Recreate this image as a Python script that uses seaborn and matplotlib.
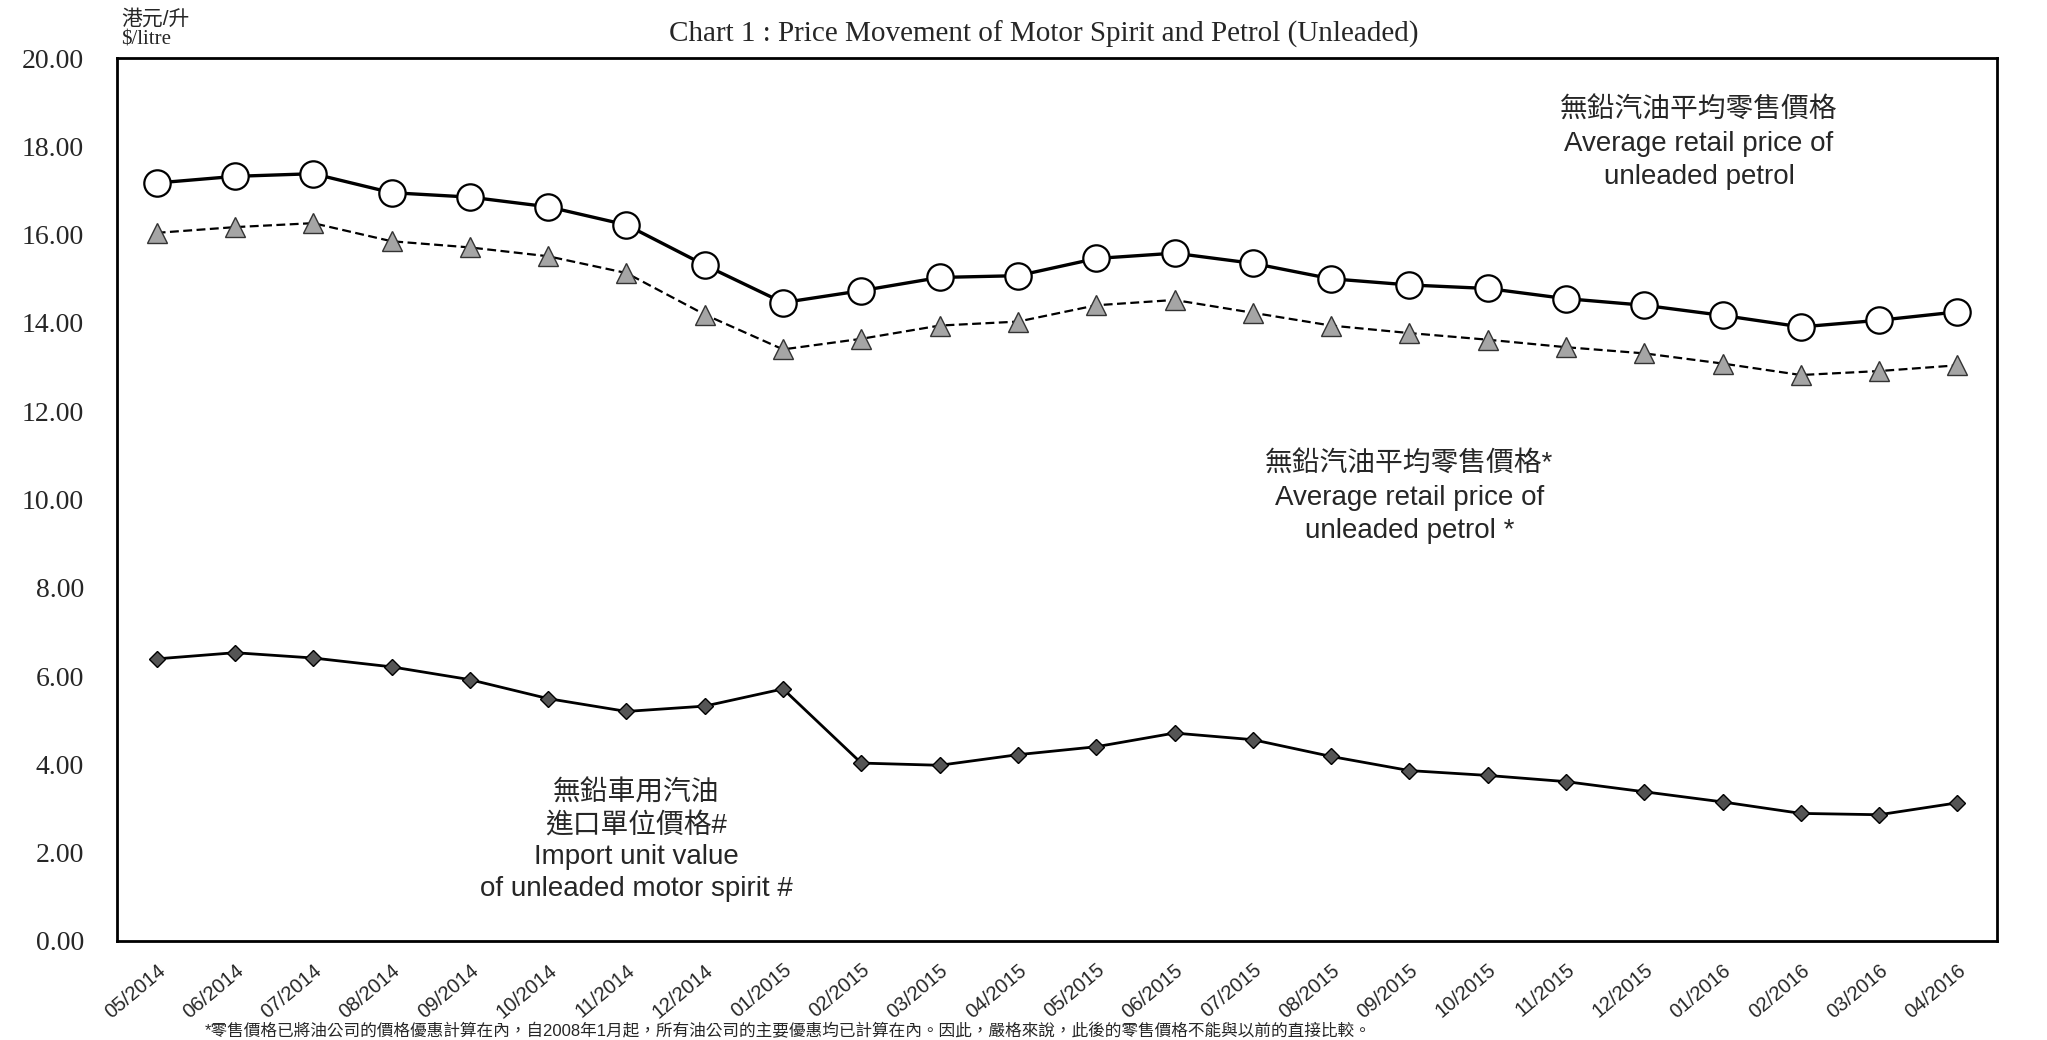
import matplotlib
matplotlib.use('Agg')
import matplotlib.pyplot as plt
import numpy as np
import pandas as pd
import seaborn as sns

# Data ($/litre)
months = ['05/2014', '06/2014', '07/2014', '08/2014', '09/2014', '10/2014',
          '11/2014', '12/2014', '01/2015', '02/2015', '03/2015', '04/2015',
          '05/2015', '06/2015', '07/2015', '08/2015', '09/2015', '10/2015',
          '11/2015', '12/2015', '01/2016', '02/2016', '03/2016', '04/2016']
retail_price = [17.17, 17.32, 17.38, 16.95, 16.85, 16.63, 16.22, 15.31, 14.46, 14.73,
                15.03, 15.07, 15.46, 15.58, 15.35, 15.00, 14.86, 14.78, 14.55, 14.40,
                14.17, 13.91, 14.06, 14.25]
retail_price_star = [16.04, 16.17, 16.26, 15.85, 15.71, 15.51, 15.13, 14.19, 13.40, 13.64,
                     13.94, 14.03, 14.40, 14.52, 14.23, 13.94, 13.77, 13.62, 13.45, 13.31,
                     13.08, 12.82, 12.91, 13.04]
import_value = [6.39, 6.53, 6.41, 6.21, 5.92, 5.49, 5.20, 5.32, 5.71, 4.03,
                3.98, 4.22, 4.40, 4.71, 4.56, 4.18, 3.86, 3.75, 3.61, 3.38,
                3.15, 2.89, 2.86, 3.13]
y_ticks = [0, 2, 4, 6, 8, 10, 12, 14, 16, 18, 20]

df = pd.DataFrame({'pos': np.arange(len(months)), 'month': months,
                   'retail': retail_price, 'retail_star': retail_price_star,
                   'import': import_value})

sns.set_style('white')
plt.rcParams['font.family'] = ['Liberation Sans', 'Noto Sans CJK TC', 'DejaVu Sans']
cjk = ['Liberation Sans', 'Noto Sans CJK TC']
serif = ['Liberation Serif', 'Noto Sans CJK TC']

fig = plt.figure(figsize=(20.47, 10.40), dpi=100)
ax = fig.add_axes([0.0574, 0.0952, 0.918, 0.849])

# Average retail price (circles, solid)
sns.lineplot(data=df, x='pos', y='retail', ax=ax, color='black', lw=2.4,
             marker='o', markersize=19, markerfacecolor='white',
             markeredgecolor='black', markeredgewidth=1.6, sort=False)
# Average retail price * (triangles, dashed)
sns.lineplot(data=df, x='pos', y='retail_star', ax=ax, color='black', lw=1.6,
             linestyle=(0, (4, 2)), marker='^', markersize=14,
             markerfacecolor='#a5a5a5', markeredgecolor='#333333',
             markeredgewidth=1.0, sort=False)
# Import unit value (diamonds)
sns.lineplot(data=df, x='pos', y='import', ax=ax, color='black', lw=2.0,
             marker='D', markersize=8, markerfacecolor='#555555',
             markeredgecolor='black', markeredgewidth=1.0, sort=False)

ax.set_xlim(-0.5, len(months) - 0.5)
ax.set_ylim(0, 20)
ax.set_yticks(y_ticks)
ax.set_yticklabels(['%.2f' % v for v in y_ticks], family=serif, fontsize=20)
ax.set_xticks(df['pos'])
ax.set_xticklabels(months, rotation=40, ha='right', rotation_mode='anchor',
                   fontsize=14.5)
ax.set_xticks(np.arange(len(months) + 1) - 0.5, minor=True)
ax.tick_params(axis='x', which='major', length=0, pad=14)
ax.tick_params(axis='x', which='minor', direction='in', length=6, width=1)
ax.tick_params(axis='y', direction='in', length=5, width=1, pad=24)
ax.set_xlabel('')
ax.set_ylabel('')
for s in ax.spines.values():
    s.set_color('black')
    s.set_linewidth(2)

# Series labels
ax.text(19.7, 18.05, '無鉛汽油平均零售價格\nAverage retail price of\nunleaded petrol',
        ha='center', va='center', fontsize=20, family=cjk, linespacing=1.35)
ax.text(16.0, 10.04, '無鉛汽油平均零售價格*\nAverage retail price of\nunleaded petrol *',
        ha='center', va='center', fontsize=20, family=cjk, linespacing=1.35)
ax.text(6.13, 2.26, '無鉛車用汽油\n進口單位價格#\nImport unit value\nof unleaded motor spirit #',
        ha='center', va='center', fontsize=20, family=cjk, linespacing=1.3)

# Title and unit
fig.text(0.51, 0.967, 'Chart 1 : Price Movement of Motor Spirit and Petrol (Unleaded)',
         ha='center', va='center', fontsize=21, family=serif)
fig.text(0.059, 0.982, '港元/升', ha='left', va='center', fontsize=15, family=cjk)
fig.text(0.059, 0.962, '$/litre', ha='left', va='center', fontsize=15, family=serif)

# Footnote at the bottom edge
fig.text(0.1, 0.001,
         '*零售價格已將油公司的價格優惠計算在內，自2008年1月起，所有油公司的主要優惠均已計算在內。'
         '因此，嚴格來說，此後的零售價格不能與以前的直接比較。',
         ha='left', va='bottom', fontsize=12, family=cjk)

fig.savefig('out.png', dpi=100)
